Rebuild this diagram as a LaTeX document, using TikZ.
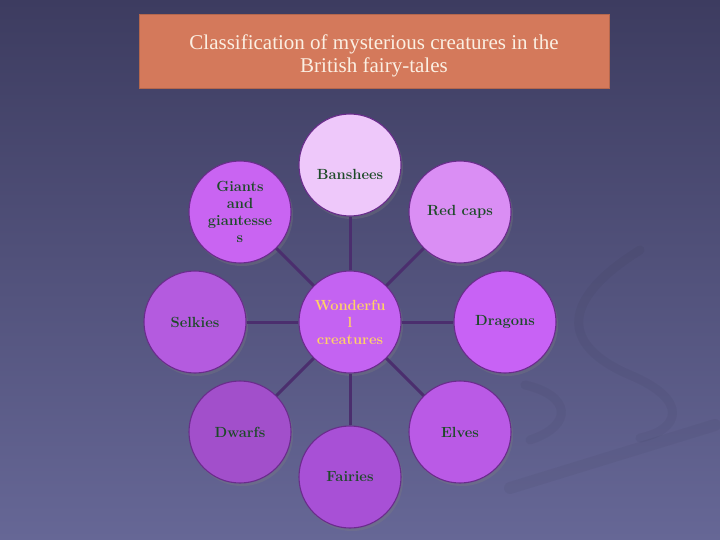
\documentclass[tikz,border=0pt]{standalone}
\usepackage{fontspec}
\newfontfamily\headfont{Liberation Serif}
\usepackage{tikz}
\usetikzlibrary{shadows}

\definecolor{bgtop}{HTML}{3D3C60}
\definecolor{bgmid}{HTML}{5D5D8B}
\definecolor{bgbot}{HTML}{666796}
\definecolor{titleorange}{HTML}{D4795B}
\definecolor{titletext}{HTML}{FBEFE2}
\definecolor{rimpurple}{HTML}{6A2C8C}
\definecolor{spokepurple}{HTML}{4B2E6E}
\definecolor{leafgreen}{HTML}{1D4A28}
\definecolor{hubgold}{HTML}{FFD266}

\begin{document}
\begin{tikzpicture}[x=1pt, y=-1pt]

		\tikzstyle{bubble}=[circle, draw=rimpurple, line width=1.1pt, minimum size=102pt,
		inner sep=0pt, align=center, text=leafgreen,
		font=\fontsize{14.7}{17}\selectfont\bfseries,
		drop shadow={opacity=0.3, shadow xshift=2pt, shadow yshift=-3pt}]
		\tikzstyle{spoke}=[draw=spokepurple, line width=3pt]
		\tikzstyle{swirl}=[draw=black, opacity=0.035, line width=9pt, line cap=round]

		% Background
		\shade[top color=bgtop, middle color=bgmid, bottom color=bgbot] (0,0) rectangle (720,540);
		\useasboundingbox (0,0) rectangle (720,540);
		\draw[swirl] (640,250) .. controls (560,300) and (560,345) .. (630,375)
		.. controls (690,400) and (680,430) .. (640,438);
		\draw[swirl] (525,385) .. controls (570,395) and (575,425) .. (530,440);
		\draw[swirl, line width=12pt] (510,488) -- (715,425);

		% Title
		\node[fill=titleorange, draw=titleorange!85!black, line width=0.6pt,
		minimum width=470pt, minimum height=74pt, align=center, text=titletext,
		text height=48pt, font=\headfont\fontsize{21}{23}\selectfont] (title) at (374,51)
		{Classification of mysterious creatures in the \\ British fairy-tales};

		% Hub
		\node[bubble, fill={rgb,255:red,196;green,99;blue,242}, text=hubgold] (hub) at (350,322)
		{Wonderfu \\ l \\ creatures};

		% Creatures
		\node[bubble, fill={rgb,255:red,238;green,200;blue,250}, text height=30pt] (banshees) at (350,165) {Banshees};
		\node[bubble, fill={rgb,255:red,218;green,142;blue,244}] (redcaps) at (460,212) {Red caps};
		\node[bubble, fill={rgb,255:red,200;green,98;blue,245}] (dragons) at (505,322) {Dragons};
		\node[bubble, fill={rgb,255:red,186;green,90;blue,230}] (elves) at (460,432) {Elves};
		\node[bubble, fill={rgb,255:red,168;green,80;blue,214}] (fairies) at (350,477) {Fairies};
		\node[bubble, fill={rgb,255:red,162;green,79;blue,203}] (dwarfs) at (240,432) {Dwarfs};
		\node[bubble, fill={rgb,255:red,180;green,91;blue,223}] (selkies) at (195,322) {Selkies};
		\node[bubble, fill={rgb,255:red,201;green,100;blue,242}] (giants) at (240,212)
		{Giants \\ and \\ giantesse \\ s};

		% Spokes
		\draw[spoke] (hub) -- (banshees);
		\draw[spoke] (hub) -- (redcaps);
		\draw[spoke] (hub) -- (dragons);
		\draw[spoke] (hub) -- (elves);
		\draw[spoke] (hub) -- (fairies);
		\draw[spoke] (hub) -- (dwarfs);
		\draw[spoke] (hub) -- (selkies);
		\draw[spoke] (hub) -- (giants);

\end{tikzpicture}
\end{document}
